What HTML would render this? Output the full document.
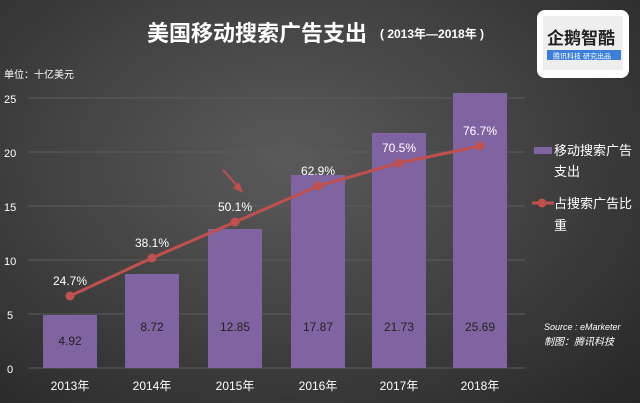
<!DOCTYPE html>
<html><head><meta charset="utf-8"><style>
body{margin:0;width:640px;height:403px;overflow:hidden;background:radial-gradient(ellipse at 45% 40%,#5a5a5a 0%,#414141 50%,#262626 100%);font-family:"Liberation Sans","Noto Sans CJK SC",sans-serif;}
</style></head><body>
<svg width="640" height="403" xmlns="http://www.w3.org/2000/svg" style="position:absolute;left:0;top:0" font-family="Liberation Sans, Noto Sans CJK SC, sans-serif">
<text x="147" y="41" fill="#fff" font-size="22" font-weight="bold">美国移动搜索广告支出</text>
<text x="380" y="38" fill="#fff" font-size="12" font-weight="bold">( 2013年—2018年 )</text>
<rect x="537" y="10" width="92" height="68" rx="8" fill="#fff"/>
<rect x="543" y="16" width="80" height="54" fill="#eee"/>
<text x="547" y="44" fill="#222" font-size="17" font-weight="bold">企鹅智酷</text>
<rect x="547" y="50" width="74" height="10" fill="#3b7fd9"/>
<text x="553" y="58.5" fill="#fff" font-size="7">腾讯科技 研究出品</text>
<text x="4" y="78" fill="#fff" font-size="10">单位：十亿美元</text>
<g stroke="#5c5c5c" stroke-width="1">
<line x1="28" y1="98" x2="525" y2="98"/><line x1="28" y1="152" x2="525" y2="152"/><line x1="28" y1="206" x2="525" y2="206"/><line x1="28" y1="260" x2="525" y2="260"/><line x1="28" y1="314" x2="525" y2="314"/><line x1="28" y1="368" x2="525" y2="368"/>
</g>
<g fill="#fff" font-size="11">
<text x="4" y="103">25</text><text x="4" y="157">20</text><text x="4" y="211">15</text><text x="4" y="265">10</text><text x="7" y="319">5</text><text x="7" y="373">0</text>
</g>
<g fill="#8064a2">
<rect x="43" y="315" width="54" height="53"/><rect x="125" y="274" width="54" height="94"/><rect x="208" y="229" width="54" height="139"/><rect x="291" y="175" width="54" height="193"/><rect x="372" y="133" width="54" height="235"/><rect x="453" y="93" width="54" height="275"/>
</g>
<g fill="#222" font-size="12" text-anchor="middle">
<text x="70" y="345">4.92</text><text x="152" y="331">8.72</text><text x="235" y="331">12.85</text><text x="318" y="331">17.87</text><text x="399" y="331">21.73</text><text x="480" y="331">25.69</text>
</g>
<polyline points="70,296 152,258 235,222 318,186 399,163 480,146" fill="none" stroke="#c0504d" stroke-width="3"/>
<g fill="#c0504d">
<circle cx="70" cy="296" r="4.5"/><circle cx="152" cy="258" r="4.5"/><circle cx="235" cy="222" r="4.5"/><circle cx="318" cy="186" r="4.5"/><circle cx="399" cy="163" r="4.5"/><circle cx="480" cy="146" r="4.5"/>
</g>
<g fill="#fff" font-size="12" text-anchor="middle">
<text x="70" y="285">24.7%</text><text x="152" y="247">38.1%</text><text x="235" y="211">50.1%</text><text x="318" y="175">62.9%</text><text x="399" y="152">70.5%</text><text x="480" y="135">76.7%</text>
</g>
<line x1="223" y1="170" x2="240" y2="189" stroke="#c0504d" stroke-width="2"/>
<polygon points="243,193 233,188 239,182" fill="#c0504d"/>
<g fill="#fff" font-size="12" text-anchor="middle">
<text x="70" y="390">2013年</text><text x="152" y="390">2014年</text><text x="235" y="390">2015年</text><text x="318" y="390">2016年</text><text x="399" y="390">2017年</text><text x="480" y="390">2018年</text>
</g>
<rect x="534" y="147" width="18" height="7" fill="#8064a2"/>
<text x="554" y="155" fill="#fff" font-size="13">移动搜索广告</text>
<text x="554" y="176" fill="#fff" font-size="13">支出</text>
<line x1="532" y1="203" x2="554" y2="203" stroke="#c0504d" stroke-width="3"/>
<circle cx="542" cy="203" r="4.5" fill="#c0504d"/>
<text x="554" y="208" fill="#fff" font-size="13">占搜索广告比</text>
<text x="554" y="230" fill="#fff" font-size="13">重</text>
<text x="544" y="330" fill="#fff" font-size="9" font-style="italic">Source : eMarketer</text>
<text x="544" y="345" fill="#fff" font-size="10" font-style="italic">制图：腾讯科技</text>
</svg>
</body></html>
